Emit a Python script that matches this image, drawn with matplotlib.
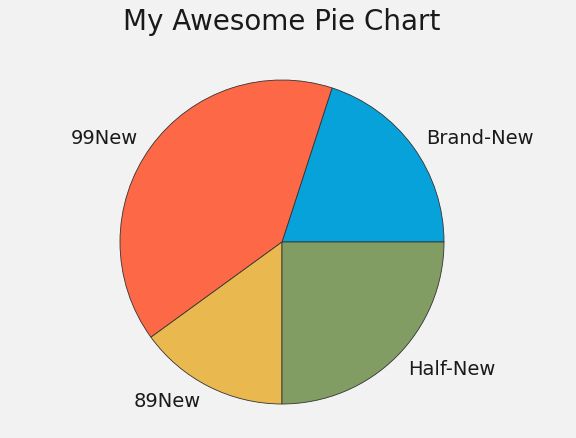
import matplotlib.pyplot as plt

# --- dane ---
etykiety = ["Brand-New", "99New", "89New", "Half-New"]
wartosci = [20, 40, 15, 25]
kolory = ["#08a2da", "#fd6847", "#e9b94f", "#819d63"]

plt.style.use("fivethirtyeight")

fig = plt.figure(figsize=(5.76, 4.39), dpi=100)
fig.patch.set_facecolor("#f2f2f2")
ax = fig.add_axes([79.5 / 576, -6.5 / 439, 405 / 576, 405 / 439])
ax.set_facecolor("#f2f2f2")

ax.pie(wartosci, labels=etykiety, colors=kolory,
       wedgeprops={"edgecolor": "#333333", "linewidth": 0.6},
       textprops={"fontsize": 14, "color": "#1a1a1a"})

fig.text(282 / 576, 1 - 22 / 439, "My Awesome Pie Chart",
         ha="center", va="center", fontsize=20, color="#1a1a1a")

fig.savefig("out.png", dpi=100, facecolor=fig.get_facecolor())
